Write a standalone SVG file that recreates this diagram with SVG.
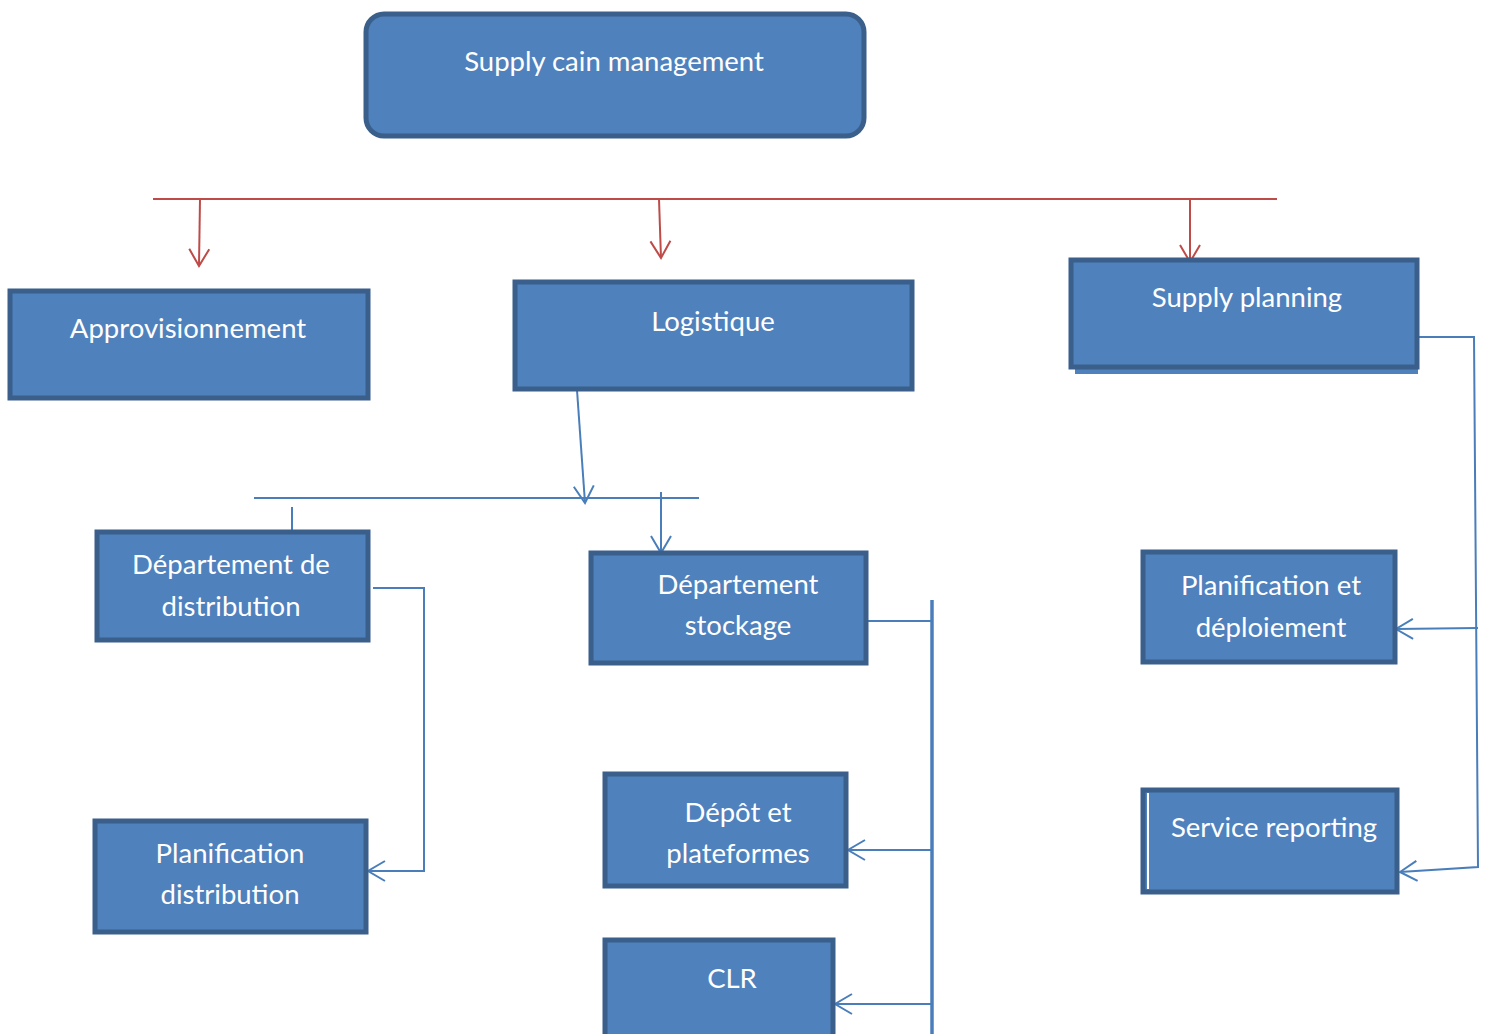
<svg xmlns="http://www.w3.org/2000/svg" width="1488" height="1034" viewBox="0 0 1488 1034">
  <defs>
    <style>
      .box { fill: #4f81bd; stroke: #3a5f8b; stroke-width: 5; }
      .lbl { fill: #ffffff; font-family: Lato, "Liberation Sans", sans-serif; font-size: 27.5px; text-anchor: middle; }
      .red { fill: none; stroke: #be4b48; stroke-width: 2; }
      .blue { fill: none; stroke: #4a7ebb; stroke-width: 2; }
    </style>
    <marker id="arrRed" markerUnits="userSpaceOnUse" viewBox="-20 -12 22 24" markerWidth="22" markerHeight="24" refX="0" refY="0" orient="auto">
      <path d="M-17,-10 L0,0 L-17,10" fill="none" stroke="#be4b48" stroke-width="2"/>
    </marker>
    <marker id="arrBlue" markerUnits="userSpaceOnUse" viewBox="-20 -12 22 24" markerWidth="22" markerHeight="24" refX="0" refY="0" orient="auto">
      <path d="M-17,-10 L0,0 L-17,10" fill="none" stroke="#4a7ebb" stroke-width="2"/>
    </marker>
  </defs>
  <rect width="1488" height="1034" fill="#ffffff"/>

  <!-- connectors -->
  <g id="connectors">
    <line class="red" x1="153" y1="199" x2="1277" y2="199"/>
    <line class="red" x1="200" y1="199" x2="199" y2="266" marker-end="url(#arrRed)"/>
    <line class="red" x1="659" y1="199" x2="661" y2="258" marker-end="url(#arrRed)"/>
    <line class="red" x1="1190" y1="199" x2="1190" y2="262" marker-end="url(#arrRed)"/>

    <line class="blue" x1="577" y1="390" x2="585" y2="503" marker-end="url(#arrBlue)"/>
    <line class="blue" x1="254" y1="498" x2="699" y2="498"/>
    <line class="blue" x1="292" y1="507" x2="292" y2="531"/>
    <line class="blue" x1="661" y1="492" x2="661" y2="553" marker-end="url(#arrBlue)"/>

    <polyline class="blue" points="373,588 424,588 424,871 368,871" marker-end="url(#arrBlue)"/>

    <line class="blue" x1="866" y1="621" x2="931" y2="621"/>
    <line x1="932" y1="600" x2="932" y2="1034" stroke="#4a7ebb" stroke-width="3.5"/>
    <line class="blue" x1="931" y1="850" x2="848" y2="850" marker-end="url(#arrBlue)"/>
    <line class="blue" x1="931" y1="1004" x2="835" y2="1004" marker-end="url(#arrBlue)"/>

    <polyline class="blue" points="1418,337 1474,337 1478,867 1400,872" marker-end="url(#arrBlue)"/>
    <line class="blue" x1="1478" y1="628" x2="1396" y2="629" marker-end="url(#arrBlue)"/>
  </g>

  <g id="node-scm">
    <rect class="box" x="366" y="14" width="498" height="122" rx="18" ry="18"/>
    <text class="lbl" x="614" y="71">Supply cain management</text>
  </g>

  <g id="node-approvisionnement">
    <rect class="box" x="10" y="291" width="358" height="107"/>
    <text class="lbl" x="188" y="338">Approvisionnement</text>
  </g>

  <g id="node-logistique">
    <rect class="box" x="515" y="282" width="397" height="107"/>
    <text class="lbl" x="713" y="331">Logistique</text>
  </g>

  <g id="node-supply-planning">
    <rect x="1075" y="364" width="343" height="10" fill="#4f81bd"/>
    <rect class="box" x="1071" y="260" width="346" height="107"/>
    <text class="lbl" x="1247" y="307">Supply planning</text>
  </g>

  <g id="node-dept-distribution">
    <rect class="box" x="97" y="532" width="271" height="108"/>
    <text class="lbl" x="231" y="574">Département de</text>
    <text class="lbl" x="231" y="616">distribution</text>
  </g>

  <g id="node-dept-stockage">
    <rect class="box" x="591" y="553" width="275" height="110"/>
    <text class="lbl" x="738" y="594">Département</text>
    <text class="lbl" x="738" y="635">stockage</text>
  </g>

  <g id="node-planif-deploiement">
    <rect class="box" x="1143" y="552" width="252" height="110"/>
    <text class="lbl" x="1271" y="595">Planification et</text>
    <text class="lbl" x="1271" y="637">déploiement</text>
  </g>

  <g id="node-service-reporting">
    <rect class="box" x="1143" y="790" width="254" height="102"/>
    <line x1="1148" y1="793" x2="1148" y2="889" stroke="#ffffff" stroke-width="2"/>
    <text class="lbl" x="1274" y="837">Service reporting</text>
  </g>

  <g id="node-depot">
    <rect class="box" x="605" y="774" width="241" height="112"/>
    <text class="lbl" x="738" y="822">Dépôt et</text>
    <text class="lbl" x="738" y="863">plateformes</text>
  </g>

  <g id="node-planif-distribution">
    <rect class="box" x="95" y="821" width="271" height="111"/>
    <text class="lbl" x="230" y="863">Planification</text>
    <text class="lbl" x="230" y="904">distribution</text>
  </g>

  <g id="node-clr">
    <rect class="box" x="605" y="940" width="228" height="100"/>
    <text class="lbl" x="732" y="988">CLR</text>
  </g>
</svg>
